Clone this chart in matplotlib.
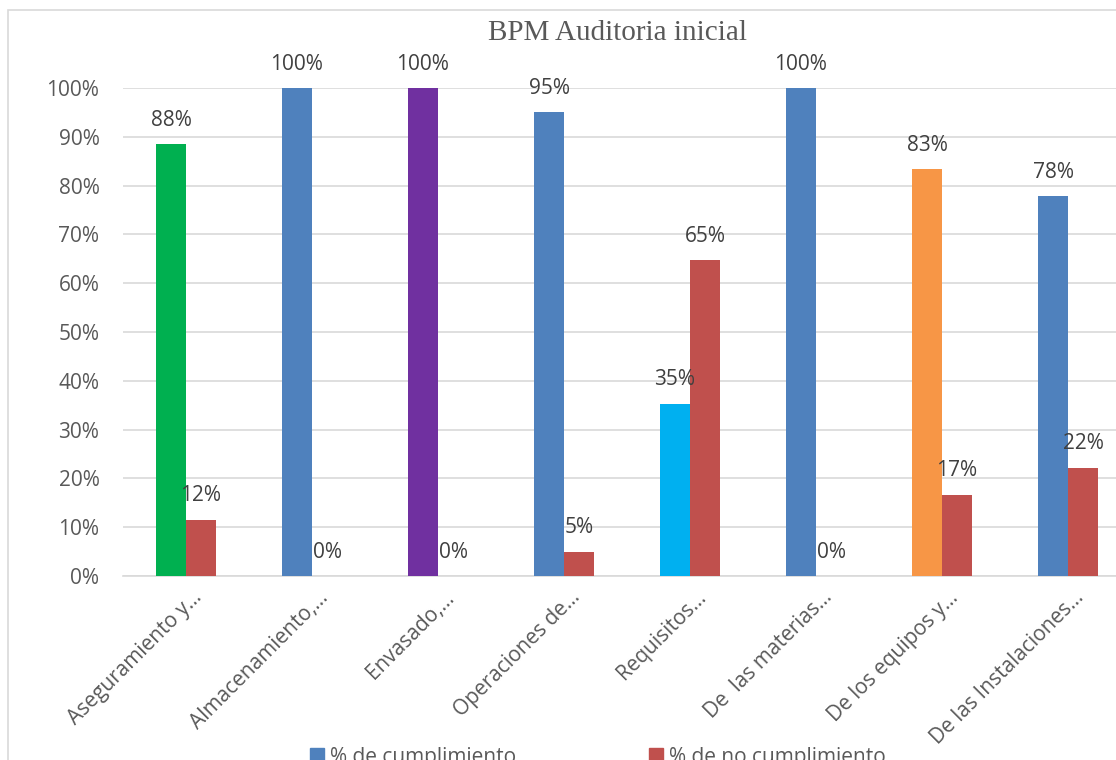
import matplotlib
matplotlib.use('Agg')
import matplotlib.pyplot as plt
from matplotlib.patches import Patch, Rectangle
from matplotlib.transforms import ScaledTranslation
import numpy as np

categories = ["Aseguramiento y…", "Almacenamiento,…", "Envasado,…", "Operaciones de…",
              "Requisitos…", "De  las materias…", "De los equipos y…", "De las Instalaciones…"]
cumplimiento = [0.885, 1.0, 1.0, 0.95, 0.353, 1.0, 0.833, 0.778]
no_cumplimiento = [0.115, 0.0, 0.0, 0.05, 0.647, 0.0, 0.167, 0.222]
bar_colors = ["#00B050", "#4F81BD", "#7030A0", "#4F81BD", "#00B0F0", "#4F81BD", "#F79646", "#4F81BD"]
series_names = ["% de cumplimiento", "% de no cumplimiento"]
legend_colors = ["#4F81BD", "#C0504D"]
title = "BPM Auditoria inicial"
yticks = [0, 0.1, 0.2, 0.3, 0.4, 0.5, 0.6, 0.7, 0.8, 0.9, 1.0]

plt.rcParams['font.family'] = ['Open Sans', 'DejaVu Sans']

W, H = 1116, 760
fig = plt.figure(figsize=(W / 100, H / 100), dpi=100)

# outer chart border (partly cropped)
fig.patches.append(Rectangle((8 / W, -0.1), 1.2, 1 - 10 / H + 0.1, transform=fig.transFigure,
                             fill=False, edgecolor='#D9D9D9', linewidth=1.2, zorder=0))

ax = fig.add_axes([123 / W, 184 / H, 1008 / W, 488 / H])
x = np.arange(len(categories))
w = 30 / 126

b1 = ax.bar(x - w / 2, cumplimiento, width=w, color=bar_colors, zorder=3)
b2 = ax.bar(x + w / 2, no_cumplimiento, width=w, color=legend_colors[1], zorder=3)

for bars, vals in ((b1, cumplimiento), (b2, no_cumplimiento)):
    for r, v in zip(bars, vals):
        ax.annotate(f"{round(v * 100):.0f}%", (r.get_x() + r.get_width() / 2, v),
                    xytext=(0, 24), textcoords='offset pixels', ha='center', va='center',
                    fontsize=15, color='#404040', annotation_clip=False, zorder=4)

ax.set_xlim(-0.5, len(categories) - 0.5)
ax.set_ylim(0, 1.0)
ax.set_yticks(yticks)
ax.set_yticklabels([f"{int(round(t * 100))}%" for t in yticks])
ax.set_xticks(x)
ax.set_xticklabels(categories, rotation=45, ha='right', va='center', rotation_mode='anchor')
ax.tick_params(axis='y', length=0, pad=17, labelsize=15, labelcolor='#595959')
ax.tick_params(axis='x', length=0, pad=14, labelsize=15, labelcolor='#595959')
shift = ScaledTranslation(13 / 100, 1 / 100, fig.dpi_scale_trans)
for lab in ax.get_xticklabels():
    lab.set_transform(lab.get_transform() + shift)
ax.grid(axis='y', color='#D9D9D9', linewidth=1.2, zorder=0)
ax.set_axisbelow(True)
for s in ['top', 'right', 'left']:
    ax.spines[s].set_visible(False)
ax.spines['bottom'].set_color('#D9D9D9')
ax.spines['bottom'].set_linewidth(1.2)

fig.text(617 / W, 1 - 33 / H, title, ha='center', va='center', fontsize=21,
         family='Liberation Serif', color='#595959')

handles = [Patch(color=c) for c in legend_colors]
fig.legend(handles, series_names, loc='center', bbox_to_anchor=(598 / W, 1 - 757 / H),
           ncol=2, frameon=False, fontsize=15, labelcolor='#595959',
           handlelength=0.65, handleheight=0.65, handletextpad=0.3, columnspacing=6.4,
           borderpad=0)

fig.savefig('out.png', dpi=100)
